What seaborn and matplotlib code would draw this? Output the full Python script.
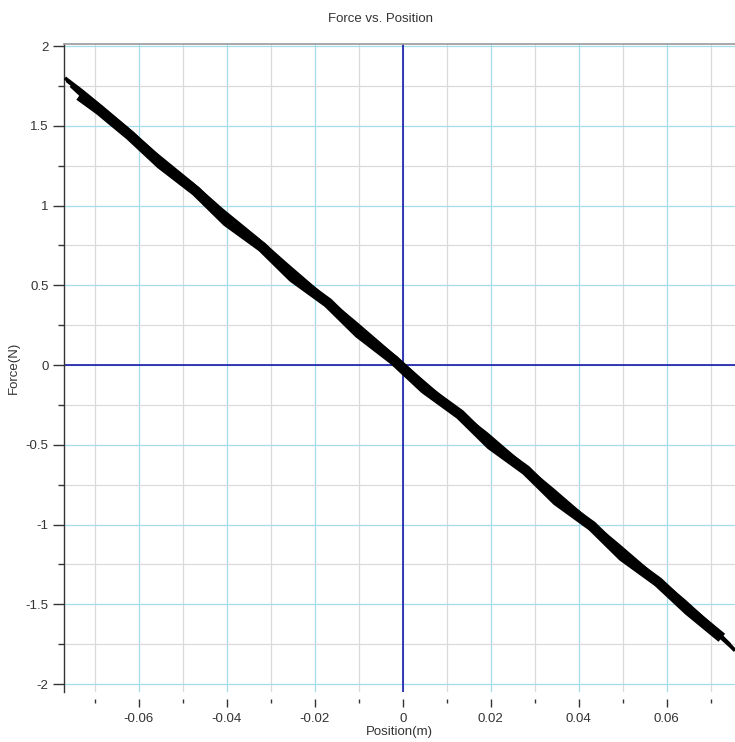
import matplotlib
matplotlib.use("Agg")
import matplotlib.pyplot as plt
import seaborn as sns
import pandas as pd
from matplotlib.ticker import MultipleLocator

sns.set_theme(style="white")
plt.rcParams['font.family'] = ['Liberation Sans', 'DejaVu Sans']

# ---- data ----
pos_a = [-0.0735, -0.069, -0.062, -0.055, -0.047, -0.040, -0.032, -0.025, -0.017, -0.010,
         -0.002, 0.005, 0.013, 0.020, 0.028, 0.035, 0.043, 0.050, 0.058, 0.065, 0.0725]
force_a = [1.69, 1.60, 1.44, 1.26, 1.09, 0.90, 0.74, 0.55, 0.39, 0.20,
           0.03, -0.15, -0.31, -0.50, -0.66, -0.85, -1.01, -1.20, -1.36, -1.54, -1.71]

pos_b = [-0.0765, -0.071, -0.066, -0.058, -0.051, -0.043, -0.036, -0.028, -0.021, -0.013,
         -0.006, 0.001, 0.009, 0.016, 0.024, 0.031, 0.039, 0.046, 0.054, 0.061, 0.068, 0.0745]
force_b = [1.78, 1.66, 1.55, 1.37, 1.20, 1.02, 0.85, 0.67, 0.49, 0.31,
           0.13, -0.04, -0.22, -0.38, -0.56, -0.72, -0.90, -1.06, -1.25, -1.41, -1.58, -1.75]

pos_c = [-0.0755, -0.068, -0.061, -0.053, -0.046, -0.038, -0.031, -0.023, -0.016, -0.008,
         -0.001, 0.007, 0.014, 0.022, 0.029, 0.037, 0.044, 0.052, 0.059, 0.066, 0.071, 0.0755]
force_c = [1.75, 1.56, 1.40, 1.21, 1.04, 0.85, 0.69, 0.50, 0.34, 0.15,
           -0.02, -0.20, -0.36, -0.55, -0.71, -0.90, -1.06, -1.25, -1.41, -1.57, -1.68, -1.79]

pos_d = [-0.0768, -0.073, -0.069, -0.063, -0.056, -0.048, -0.041, -0.033, -0.026, -0.018, -0.011,
         -0.003, 0.004, 0.012, 0.019, 0.027, 0.034, 0.042, 0.049, 0.057, 0.064, 0.070, 0.0755]
force_d = [1.80, 1.72, 1.63, 1.49, 1.32, 1.14, 0.97, 0.79, 0.62, 0.43, 0.27,
           0.08, -0.09, -0.28, -0.43, -0.62, -0.78, -0.97, -1.13, -1.32, -1.48, -1.63, -1.79]

pos_e = [-0.0745, -0.067, -0.060, -0.052, -0.045, -0.037, -0.030, -0.022, -0.015, -0.007,
         0.000, 0.008, 0.015, 0.023, 0.030, 0.038, 0.045, 0.053, 0.060, 0.067, 0.0735]
force_e = [1.74, 1.56, 1.39, 1.22, 1.04, 0.86, 0.69, 0.51, 0.34, 0.15,
           -0.02, -0.20, -0.37, -0.55, -0.72, -0.90, -1.07, -1.25, -1.42, -1.59, -1.73]

pos_f = [-0.072, -0.064, -0.057, -0.049, -0.042, -0.034, -0.027, -0.019, -0.012, -0.004,
         0.003, 0.011, 0.018, 0.026, 0.033, 0.041, 0.048, 0.056, 0.063, 0.069]
force_f = [1.66, 1.49, 1.30, 1.14, 0.96, 0.79, 0.60, 0.43, 0.25, 0.08,
           -0.10, -0.26, -0.45, -0.62, -0.80, -0.97, -1.15, -1.32, -1.50, -1.65]

x_major = [-0.06, -0.04, -0.02, 0, 0.02, 0.04, 0.06]
x_labels = ["-0.06", "-0.04", "-0.02", "0", "0.02", "0.04", "0.06"]
y_major = [-2, -1.5, -1, -0.5, 0, 0.5, 1, 1.5, 2]
y_labels = ["-2", "-1.5", "-1", "-0.5", "0", "0.5", "1", "1.5", "2"]

# ---- figure ----
fig = plt.figure(figsize=(7.35, 7.42), dpi=100)
ax = fig.add_axes([0.0871, 0.0674, 0.9129, 0.8733])

ax.set_xlim(-0.077, 0.0755)
ax.set_ylim(-2.05, 2.013)

ax.xaxis.set_minor_locator(MultipleLocator(0.01))
ax.yaxis.set_minor_locator(MultipleLocator(0.25))
ax.set_xticks(x_major, x_labels)
ax.set_yticks(y_major, y_labels)

ax.grid(True, which='minor', color='#dadada', linewidth=0.9, zorder=0)
ax.grid(True, which='major', color='#a4dcee', linewidth=0.9, zorder=0)
ax.set_axisbelow(True)

ax.axhline(0, color='#1a1aa8', linewidth=1.2, zorder=1)
ax.axvline(0, color='#1a1aa8', linewidth=1.2, zorder=1)

passes = [(pos_a, force_a, 7.5), (pos_b, force_b, 1.3), (pos_c, force_c, 2.0),
          (pos_d, force_d, 2.6), (pos_e, force_e, 1.3), (pos_f, force_f, 3.0)]
for px, pf, lw in passes:
    df = pd.DataFrame({"Position": px, "Force": pf})
    sns.lineplot(data=df, x="Position", y="Force", sort=False, estimator=None,
                 color='black', linewidth=lw, ax=ax, zorder=3,
                 solid_capstyle='butt', solid_joinstyle='round')

# spines
for s in ['right', 'bottom']:
    ax.spines[s].set_visible(False)
ax.spines['bottom'].set_position(('outward', 5))
ax.spines['top'].set_color('#999999')
ax.spines['top'].set_linewidth(1.2)
ax.spines['left'].set_color('#333333')
ax.spines['left'].set_linewidth(1.0)

ax.tick_params(axis='both', which='major', direction='out', labelsize=9.5,
               labelcolor='#333333', color='#333333', width=1.0)
ax.tick_params(axis='y', which='major', length=8, left=True, pad=3)
ax.tick_params(axis='y', which='minor', length=4, left=True, width=1.0, color='#333333')
ax.tick_params(axis='x', which='major', length=6, bottom=True, pad=4)
ax.tick_params(axis='x', which='minor', length=3, bottom=True, width=1.0, color='#333333')

ax.set_xlabel("Position(m)", fontsize=9.5, color='#333333', labelpad=1)
ax.set_ylabel("Force(N)", fontsize=9.5, color='#333333', labelpad=4)
ax.set_title("")
fig.text(381 / 735, 1 - 19 / 742, "Force vs. Position", fontsize=9.5, color='#333333',
         ha='center', va='center')

fig.savefig("out.png", dpi=100)
